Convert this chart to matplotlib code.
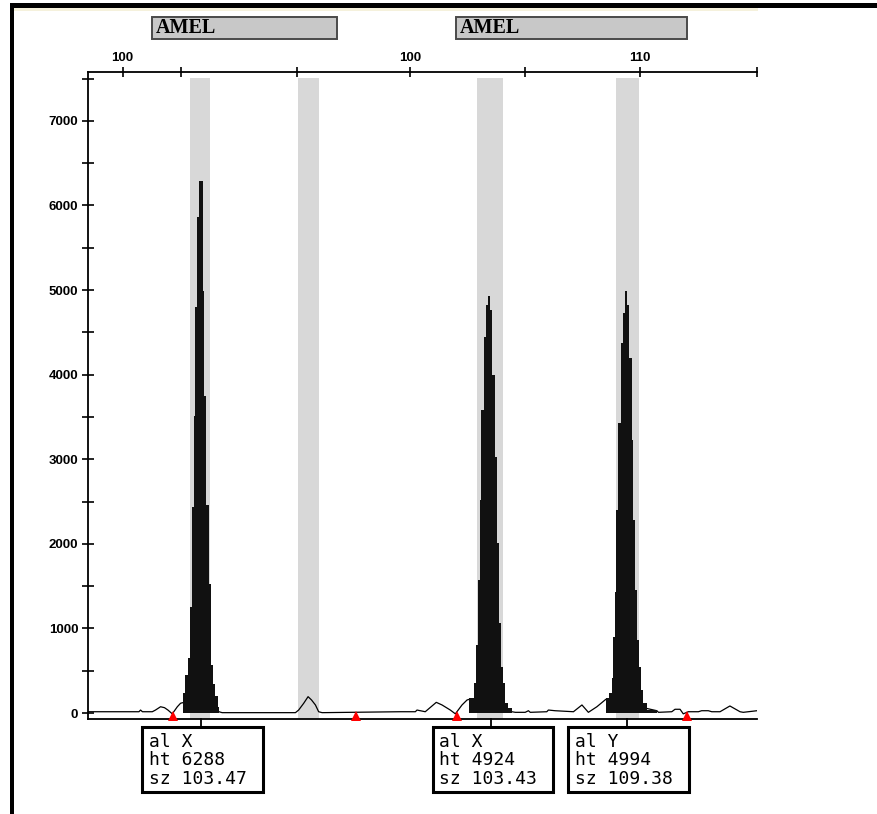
import matplotlib.pyplot as plt
import matplotlib.transforms as mtransforms
from matplotlib.patches import Rectangle
from matplotlib.lines import Line2D
from matplotlib.ticker import MultipleLocator

# top size scale (bp) - two screen captures joined, so the left part has its own "100"
top_ticks = [87.48, 90.0, 95.07, 100.0, 105.0, 110.0, 115.09]
top_labels = ["100", "", "", "100", "", "110", ""]

# grey allele bins
bin_lo = [90.39, 95.09, 102.91, 108.96]
bin_hi = [91.26, 96.04, 104.04, 109.96]

# AMEL marker bars above the plot
amel_lo = [88.77, 102.00]
amel_hi = [96.81, 112.03]

# baseline trace (bp, rfu)
trace_bp = [85.97, 88.19, 88.26, 88.34, 88.77, 88.91, 89.13, 89.30, 89.45, 89.64,
            89.86, 90.00, 90.09, 91.67, 91.81, 95.00, 95.14, 95.36, 95.55, 95.70,
            95.87, 96.01, 96.16, 99.57, 100.22, 100.29, 100.65, 101.13, 101.38, 101.74,
            101.96, 102.25, 102.47, 102.57, 104.42, 104.57, 105.00, 105.14, 105.22, 105.94,
            106.01, 106.30, 107.10, 107.47, 107.75, 108.12, 108.51, 110.73, 110.80, 111.38,
            111.52, 111.74, 111.88, 112.10, 112.54, 112.68, 112.97, 113.12, 113.48, 113.91,
            114.35, 114.49, 115.09]
trace_rfu = [15, 15, 35, 15, 15, 35, 74, 63, 35, -10,
             74, 115, 122, 15, 4, 4, 35, 115, 193, 154,
             95, 15, 4, 15, 15, 35, 15, 126, 95, 35,
             -10, 95, 154, 162, 15, 8, 8, 27, 8, 15,
             35, 27, 15, 95, 8, 74, 162, 27, 8, 15,
             44, 44, -10, 15, 15, 27, 27, 15, 15, 83,
             15, 8, 27]

# filled peaks (step edges in bp, heights in rfu)
peak1_edges = [90.087, 90.209, 90.330, 90.422, 90.513, 90.574, 90.622, 90.730, 90.804,
               90.957, 91.035, 91.126, 91.230, 91.309, 91.413, 91.504, 91.613, 91.674]
peak1_rfu = [239, 446, 654, 1255, 2437, 3515, 4801, 5858, 6288,
             4987, 3743, 2457, 1525, 571, 343, 197, 73]

peak2_edges = [102.565, 102.752, 102.857, 102.926, 103.013, 103.087, 103.187, 103.291,
               103.378, 103.478, 103.552, 103.696, 103.783, 103.839, 103.943, 104.030,
               104.130, 104.248, 104.422]
peak2_rfu = [174, 351, 804, 1572, 2518, 3582, 4448, 4823, 4924,
             4764, 3995, 3030, 2006, 1060, 547, 351, 115, 59]

peak3_edges = [108.522, 108.667, 108.768, 108.841, 108.899, 108.957, 109.058, 109.160,
               109.246, 109.348, 109.449, 109.536, 109.638, 109.710, 109.783, 109.855,
               109.957, 110.043, 110.145, 110.290, 110.725]
peak3_rfu = [175, 233, 410, 902, 1434, 2400, 3424, 4370, 4724, 4994,
             4823, 4193, 3227, 2281, 1454, 863, 547, 272, 118, 35]

# called peaks
call_pos = [90.87, 103.51, 109.42]
call_allele = ["X", "X", "Y"]
call_ht = [6288, 4924, 4994]
call_sz = [103.47, 103.43, 109.38]

# red bin-edge markers
marker_bp = [89.67, 97.65, 102.03, 112.03]

fig = plt.figure(figsize=(8.77, 8.14), dpi=100)
ax = fig.add_axes([0.1003, 0.1167, 0.7629, 0.7948])
ax.set_xlim(85.97, 115.09)
ax.set_ylim(-71, 7577)

for lo, hi in zip(bin_lo, bin_hi):
    ax.axvspan(lo, hi, ymin=0, ymax=0.991, color="#d8d8d8", lw=0, zorder=0)

ax.plot(trace_bp, trace_rfu, color="black", lw=0.9, zorder=2)
for edges, vals in [(peak1_edges, peak1_rfu), (peak2_edges, peak2_rfu), (peak3_edges, peak3_rfu)]:
    ax.stairs(vals, edges, baseline=0, fill=True, color="#111111", zorder=3)

ax.plot(marker_bp, [-30] * len(marker_bp), "^", color="red", ms=7, mew=0,
        clip_on=False, zorder=4)

# axes styling
for s in ["left", "top", "bottom"]:
    ax.spines[s].set_linewidth(1.3)
ax.spines["right"].set_visible(False)
ax.xaxis.tick_top()
ax.set_xticks(top_ticks)
ax.set_xticklabels(top_labels)
ax.tick_params(axis="x", direction="inout", length=7, width=1.2, pad=2,
               labelsize=9.5)
ax.yaxis.set_major_locator(MultipleLocator(1000))
ax.yaxis.set_minor_locator(MultipleLocator(500))
ax.tick_params(axis="y", which="both", direction="inout", length=8, width=1.2,
               pad=3, labelsize=9.5)
for lab in ax.get_xticklabels() + ax.get_yticklabels():
    lab.set_fontfamily("Liberation Sans")
    lab.set_fontweight("bold")

trans = mtransforms.blended_transform_factory(ax.transData, ax.transAxes)

# AMEL bars
for lo, hi in zip(amel_lo, amel_hi):
    ax.add_patch(Rectangle((lo, 1.0518), hi - lo, 0.0332, transform=trans,
                           facecolor="#c8c8c8", edgecolor="#4a4a4a", lw=1.4,
                           clip_on=False))
    ax.text(lo + 0.15, 1.0684, "AMEL", transform=trans, ha="left", va="center",
            fontsize=14.5, fontweight="bold", fontfamily="Liberation Serif")

# peak label boxes
for pos, a, h, s in zip(call_pos, call_allele, call_ht, call_sz):
    ax.add_line(Line2D([pos, pos], [0, -0.0125], transform=trans, color="black",
                       lw=1.3, clip_on=False))
    left = pos - 2.54
    ax.add_patch(Rectangle((left, -0.1133), 5.26, 0.1014, transform=trans,
                           facecolor="white", edgecolor="black", lw=2.2,
                           clip_on=False))
    lines = ["al " + a, "ht " + str(h), "sz %.2f" % s]
    for txt, yy in zip(lines, [-0.0351, -0.0634, -0.0927]):
        ax.text(left + 0.3, yy, txt, transform=trans, ha="left", va="center",
                fontsize=13, fontfamily="DejaVu Sans Mono")

# screenshot frame: black bars at top and left
fig.add_artist(Rectangle((0.0114, 0.9902), 0.9886, 0.0061, transform=fig.transFigure,
                         facecolor="black", lw=0))
fig.add_artist(Rectangle((0.0114, 0.0), 0.0046, 0.9963, transform=fig.transFigure,
                         facecolor="black", lw=0))
fig.add_artist(Rectangle((0.016, 0.9865), 0.848, 0.0037, transform=fig.transFigure,
                         facecolor="#f5f1dc", lw=0))

fig.savefig("out.png", dpi=100)
